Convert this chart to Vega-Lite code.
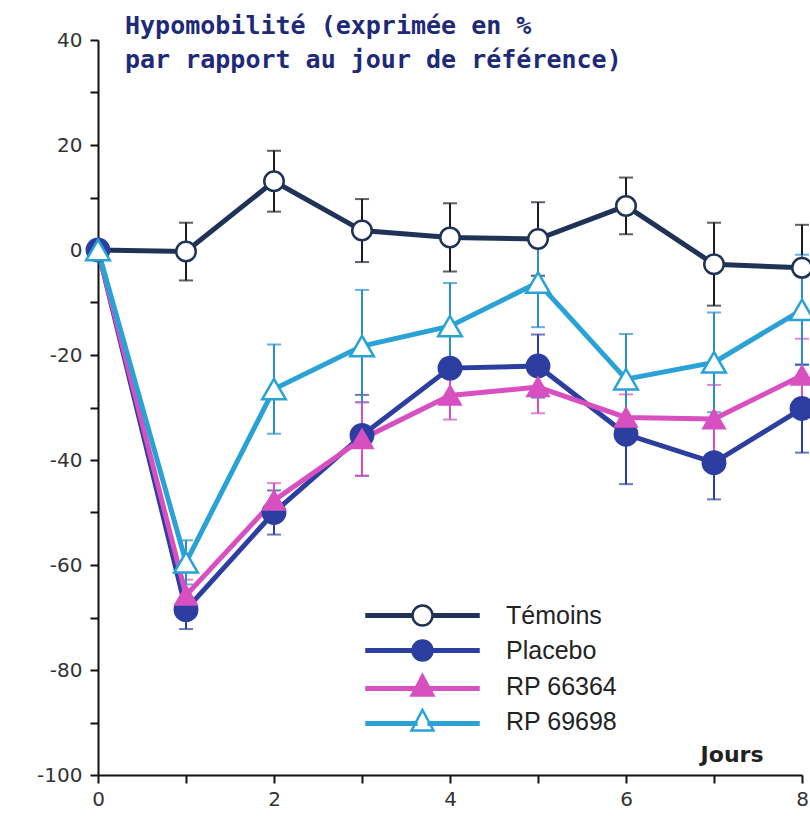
{
  "$schema": "https://vega.github.io/schema/vega-lite/v6.json",
  "width": 704,
  "height": 735,
  "autosize": "none",
  "padding": {"left": 98, "top": 40, "right": 8, "bottom": 55},
  "background": "white",
  "config": {"view": {"stroke": null}},
  "title": {
    "text": ["Hypomobilité (exprimée en %", "par rapport au jour de référence)"],
    "anchor": "start",
    "frame": "group",
    "font": "DejaVu Sans Mono",
    "fontSize": 25,
    "fontWeight": "bold",
    "color": "#1e2a78",
    "lineHeight": 34,
    "offset": 0,
    "dx": 27,
    "dy": 43
  },
  "data": {
    "values": [
      {"series": "Témoins", "day": 0, "value": 0, "err": 0},
      {"series": "Témoins", "day": 1, "value": -0.3, "err": 5.5},
      {"series": "Témoins", "day": 2, "value": 13.1, "err": 5.8},
      {"series": "Témoins", "day": 3, "value": 3.7, "err": 6},
      {"series": "Témoins", "day": 4, "value": 2.4, "err": 6.5},
      {"series": "Témoins", "day": 5, "value": 2.1, "err": 7},
      {"series": "Témoins", "day": 6, "value": 8.4, "err": 5.4},
      {"series": "Témoins", "day": 7, "value": -2.7, "err": 7.9},
      {"series": "Témoins", "day": 8, "value": -3.4, "err": 8.2},
      {"series": "Placebo", "day": 0, "value": 0, "err": 0},
      {"series": "Placebo", "day": 1, "value": -68.5, "err": 3.7},
      {"series": "Placebo", "day": 2, "value": -50, "err": 4.2},
      {"series": "Placebo", "day": 3, "value": -35.3, "err": 7.7},
      {"series": "Placebo", "day": 4, "value": -22.5, "err": 6.5},
      {"series": "Placebo", "day": 5, "value": -22.1, "err": 6},
      {"series": "Placebo", "day": 6, "value": -35.1, "err": 9.5},
      {"series": "Placebo", "day": 7, "value": -40.5, "err": 7},
      {"series": "Placebo", "day": 8, "value": -30.2, "err": 8.4},
      {"series": "RP 66364", "day": 0, "value": 0, "err": 0},
      {"series": "RP 66364", "day": 1, "value": -65.8, "err": 3},
      {"series": "RP 66364", "day": 2, "value": -47.7, "err": 3.3},
      {"series": "RP 66364", "day": 3, "value": -36, "err": 7},
      {"series": "RP 66364", "day": 4, "value": -27.7, "err": 4.6},
      {"series": "RP 66364", "day": 5, "value": -26.1, "err": 5},
      {"series": "RP 66364", "day": 6, "value": -31.9, "err": 4.4},
      {"series": "RP 66364", "day": 7, "value": -32.2, "err": 6.5},
      {"series": "RP 66364", "day": 8, "value": -23.9, "err": 7},
      {"series": "RP 69698", "day": 0, "value": 0, "err": 0},
      {"series": "RP 69698", "day": 1, "value": -59.5, "err": 4.2},
      {"series": "RP 69698", "day": 2, "value": -26.5, "err": 8.5},
      {"series": "RP 69698", "day": 3, "value": -18.3, "err": 10.7},
      {"series": "RP 69698", "day": 4, "value": -14.5, "err": 8.2},
      {"series": "RP 69698", "day": 5, "value": -6.2, "err": 8.5},
      {"series": "RP 69698", "day": 6, "value": -24.6, "err": 8.6},
      {"series": "RP 69698", "day": 7, "value": -21.4, "err": 9.5},
      {"series": "RP 69698", "day": 8, "value": -11.4, "err": 10.5}
    ]
  },
  "encoding": {
    "x": {
      "field": "day",
      "type": "quantitative",
      "scale": {"domain": [0, 8], "nice": false, "zero": false},
      "axis": {
        "title": "Jours",
        "values": [0, 1, 2, 3, 4, 5, 6, 7, 8],
        "labelExpr": "datum.value % 2 === 0 ? '' + datum.value : ''",
        "grid": false,
        "domainColor": "#111",
        "domainWidth": 2,
        "tickColor": "#111",
        "tickWidth": 2,
        "tickSize": 8,
        "labelFont": "DejaVu Sans",
        "labelFontSize": 20,
        "labelColor": "#333",
        "labelPadding": 6,
        "labelFlush": false,
        "labelOverlap": false,
        "titleFont": "DejaVu Sans",
        "titleFontSize": 22,
        "titleFontWeight": "bold",
        "titleColor": "#222",
        "titleX": 665,
        "titleY": -14,
        "titleAlign": "right",
        "titleBaseline": "alphabetic"
      }
    },
    "y": {
      "field": "value",
      "type": "quantitative",
      "scale": {"domain": [-100, 40], "nice": false, "zero": false},
      "axis": {
        "title": null,
        "values": [-100, -90, -80, -70, -60, -50, -40, -30, -20, -10, 0, 10, 20, 30, 40],
        "labelExpr": "datum.value % 20 === 0 ? '' + datum.value : ''",
        "grid": false,
        "domainColor": "#111",
        "domainWidth": 2,
        "tickColor": "#111",
        "tickWidth": 2,
        "tickSize": 8,
        "labelFont": "DejaVu Sans",
        "labelFontSize": 20,
        "labelColor": "#333",
        "labelPadding": 8,
        "labelFlush": false,
        "labelOverlap": false
      }
    }
  },
  "layer": [
    {
      "transform": [{"filter": "datum.err > 0"}],
      "mark": {"type": "errorbar", "ticks": {"size": 14, "thickness": 2}, "thickness": 2},
      "encoding": {
        "yError": {"field": "err"},
        "color": {
          "field": "series",
          "type": "nominal",
          "scale": {
            "domain": ["Placebo", "Témoins", "RP 66364", "RP 69698"],
            "range": ["#2c3ea0", "#1a1a22", "#d850c0", "#2a8ccc"]
          },
          "legend": null
        }
      }
    },
    {
      "mark": {"type": "line", "strokeWidth": 5},
      "encoding": {
        "stroke": {
          "field": "series",
          "type": "nominal",
          "scale": {
            "domain": ["RP 69698", "Témoins", "Placebo", "RP 66364"],
            "range": ["#2aa2d6", "#1f3357", "#2c3ea0", "#d850c0"]
          },
          "legend": null
        }
      }
    },
    {
      "mark": {"type": "point", "strokeWidth": 2.5, "opacity": 1},
      "encoding": {
        "stroke": {"field": "series", "type": "nominal", "legend": null},
        "shape": {
          "field": "series",
          "type": "nominal",
          "scale": {
            "domain": ["RP 66364", "Placebo", "Témoins", "RP 69698"],
            "range": ["triangle-up", "circle", "circle", "triangle-up"]
          },
          "legend": null
        },
        "size": {
          "field": "series",
          "type": "nominal",
          "scale": {
            "domain": ["Témoins", "RP 66364", "Placebo", "RP 69698"],
            "range": [380, 560, 380, 560]
          },
          "legend": null
        },
        "fill": {
          "field": "series",
          "type": "nominal",
          "scale": {
            "domain": ["Témoins", "Placebo", "RP 66364", "RP 69698"],
            "range": ["#ffffff", "#2c3ea0", "#d850c0", "#ffffff"]
          },
          "legend": {
            "title": null,
            "orient": "none",
            "legendX": 312,
            "legendY": 563,
            "symbolSize": 400,
            "labelOffset": 71,
            "labelFont": "Liberation Sans",
            "labelFontSize": 25,
            "labelColor": "#222",
            "rowPadding": 4,
            "symbolStrokeWidth": 2.5,
            "symbolOpacity": 1,
            "symbolType": {"expr": "(datum.value === 'Témoins' || datum.value === 'Placebo') ? 'M-5.6,-0.13H-1V0.13H-5.6Z M1,-0.13H5.6V0.13H1Z M1,0A1,1 0 1,1 -1,0A1,1 0 1,1 1,0Z' : 'M-5.6,0.07H-0.62V0.33H-5.6Z M0.62,0.07H5.6V0.33H0.62Z M0,-1.15L1.1,0.9L-1.1,0.9Z'"},
            "symbolStrokeColor": {"expr": "datum.value === 'Témoins' ? '#1f3357' : datum.value === 'Placebo' ? '#2c3ea0' : datum.value === 'RP 66364' ? '#d850c0' : '#2aa2d6'"}
          }
        }
      }
    }
  ]
}
